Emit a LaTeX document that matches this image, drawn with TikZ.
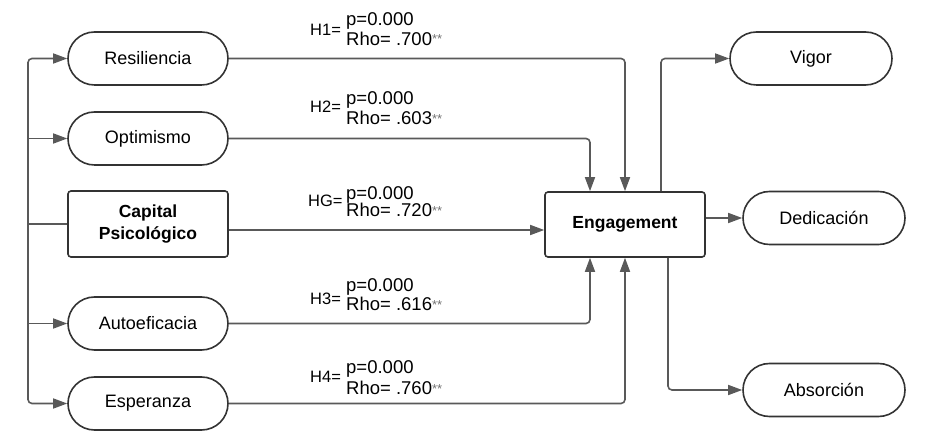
\documentclass[tikz,border=0pt]{standalone}
\usepackage{fontspec}
\setmainfont{Liberation Sans}
\usetikzlibrary{arrows.meta,shapes.misc}
\newcommand{\stars}{{\color{black!55}\fontsize{13}{13}\selectfont\raisebox{1.5pt}{**}}}
\begin{document}
\begin{tikzpicture}[x=1pt,y=-1pt,
  pill/.style={rounded rectangle, draw=black!80, line width=1.6pt, minimum width=160pt, minimum height=53pt, inner sep=0pt, font=\fontsize{18}{21}\selectfont},
  boxn/.style={rectangle, rounded corners=3pt, draw=black!80, line width=1.6pt, minimum width=160pt, minimum height=65pt, inner sep=0pt, align=center, font=\bfseries\fontsize{17.5}{22}\selectfont},
  conn/.style={draw=black!65, line width=1.6pt, rounded corners=4pt},
  arr/.style={conn, -{Triangle[length=14pt,width=10pt]}},
  lbl/.style={inner sep=0pt, font=\fontsize{18.5}{20}\selectfont},
  hlbl/.style={inner sep=0pt, font=\fontsize{16.5}{18}\selectfont}]
\useasboundingbox (0,0) rectangle (930,443);
% nodes
\node[pill] (res) at (148,58.5) {Resiliencia};
\node[pill] (opt) at (148,138.5) {Optimismo};
\node[boxn, minimum height=66pt] (cap) at (148,224) {Capital\\Psicológico};
\node[pill] (aut) at (148,323.5) {Autoeficacia};
\node[pill] (esp) at (148,403.5) {Esperanza};
\node[boxn] (eng) at (625,224.5) {Engagement};
\node[pill, minimum width=162pt] (vig) at (811,58.5) {Vigor};
\node[pill, minimum width=162pt] (ded) at (824,218) {Dedicación};
\node[pill, minimum width=162pt] (abs) at (824,390) {Absorción};
% left trunk
\coordinate (tk) at (28,224);
\draw[conn] (cap.west) -- (tk);
\draw[arr] (tk) |- (res.west);
\draw[arr] (tk) |- (esp.west);
\draw[arr] (tk |- opt.west) -- (opt.west);
\draw[arr] (tk |- aut.west) -- (aut.west);
% inputs to engagement
\draw[arr] (res.east) -| (eng.north);
\draw[arr] (opt.east) -| ([xshift=-35pt]eng.north);
\coordinate (cg) at ([yshift=-6pt]cap.east);
\draw[arr] (cg) -- (cg -| eng.west);
\draw[arr] (aut.east) -| ([xshift=-35pt]eng.south);
\draw[arr] (esp.east) -| (eng.south);
% outputs
\draw[arr] ([xshift=36pt]eng.north) |- (vig.west);
\draw[arr] (ded.west -| eng.east) -- (ded.west);
\draw[arr] ([xshift=43pt]eng.south) |- (abs.west);
% labels
\node[hlbl, anchor=base west] (h1) at (310,36) {H1=};
\node[lbl, anchor=base west] (p1) at (346,26) {p=0.000};
\node[lbl, anchor=base west] (r1) at (346,45.5) {Rho= .700\stars};
\node[hlbl, anchor=base west] (h2) at (310,113) {H2=};
\node[lbl, anchor=base west] (p2) at (346,105) {p=0.000};
\node[lbl, anchor=base west] (r2) at (346,125) {Rho= .603\stars};
\node[hlbl, anchor=base west] (hg) at (308,207) {HG=};
\node[lbl, anchor=base west] (pg) at (346,200) {p=0.000};
\node[lbl, anchor=base west] (rg) at (346,217) {Rho= .720\stars};
\node[hlbl, anchor=base west] (h3) at (310,305) {H3=};
\node[lbl, anchor=base west] (p3) at (346,292) {p=0.000};
\node[lbl, anchor=base west] (r3) at (346,311) {Rho= .616\stars};
\node[hlbl, anchor=base west] (h4) at (310,383) {H4=};
\node[lbl, anchor=base west] (p4) at (346,374) {p=0.000};
\node[lbl, anchor=base west] (r4) at (346,395) {Rho= .760\stars};
\end{tikzpicture}
\end{document}
